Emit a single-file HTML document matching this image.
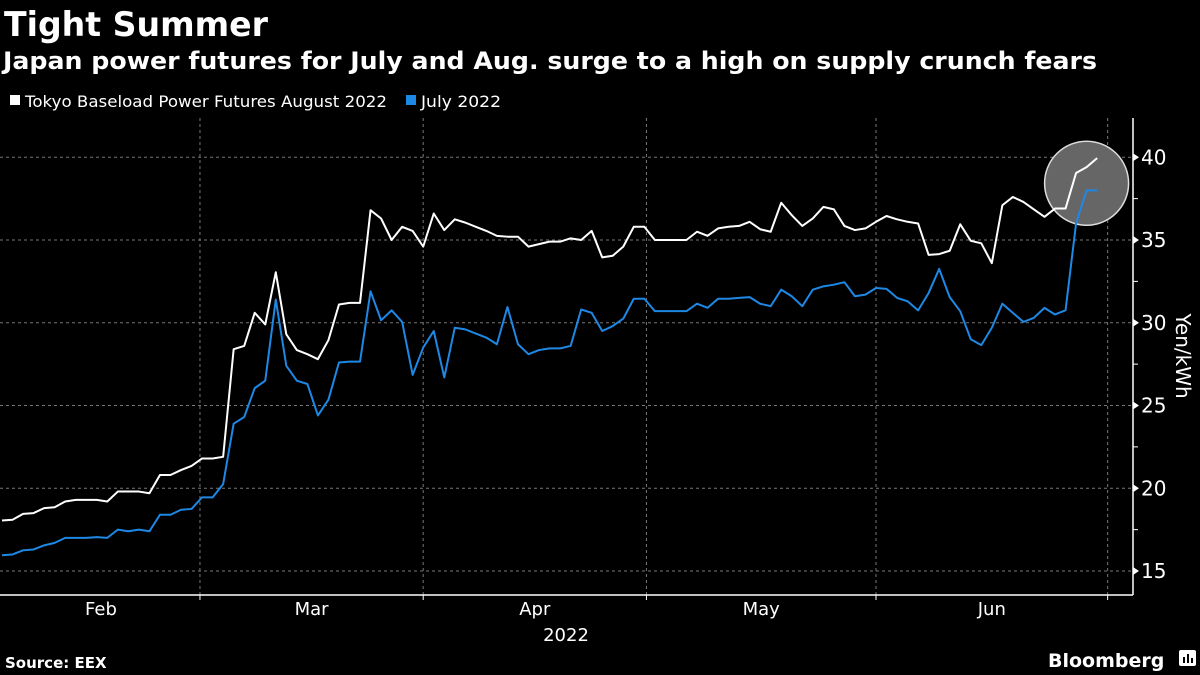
<!DOCTYPE html>
<html><head><meta charset="utf-8"><style>
html,body{margin:0;padding:0;background:#000;}
body{width:1200px;height:675px;overflow:hidden;font-family:"Liberation Sans","DejaVu Sans",sans-serif;color:#fff;}
</style></head><body>
<svg id="chart" width="1200" height="675" xmlns="http://www.w3.org/2000/svg" style="position:absolute;left:0;top:0">
<text x="4" y="36" font-family="DejaVu Sans, sans-serif" font-weight="bold" font-size="34" fill="#fff" textLength="264" lengthAdjust="spacingAndGlyphs">Tight Summer</text>
<text x="3" y="69" font-family="DejaVu Sans, sans-serif" font-weight="bold" font-size="24" fill="#fff" textLength="1094" lengthAdjust="spacingAndGlyphs">Japan power futures for July and Aug. surge to a high on supply crunch fears</text>
<g>
<rect x="10" y="95" width="10" height="10" fill="#fff"/>
<text x="25" y="107" font-family="DejaVu Sans, sans-serif" font-size="16" fill="#fff" textLength="362" lengthAdjust="spacingAndGlyphs">Tokyo Baseload Power Futures August 2022</text>
<rect x="406" y="95" width="10" height="10" fill="#1e88e5"/>
<text x="421" y="107" font-family="DejaVu Sans, sans-serif" font-size="16" fill="#fff" textLength="80" lengthAdjust="spacingAndGlyphs">July 2022</text>
</g>
<g id="grid"></g>
<g id="series"></g>
<g id="axes"></g>
<text transform="translate(1176,356) rotate(90)" text-anchor="middle" font-family="DejaVu Sans, sans-serif" font-size="20" fill="#fff">Yen/kWh</text>
<text x="566" y="641" text-anchor="middle" font-family="DejaVu Sans, sans-serif" font-size="18" fill="#fff">2022</text>
<text x="5" y="668" font-family="DejaVu Sans, sans-serif" font-weight="bold" font-size="15" fill="#fff">Source: EEX</text>
<text x="1048" y="667" font-family="DejaVu Sans, sans-serif" font-weight="bold" font-size="19" fill="#fff">Bloomberg</text>
<g><rect x="1179" y="650" width="17" height="16" rx="2" fill="#fff"/><rect x="1183" y="657" width="2" height="6" fill="#000"/><rect x="1187" y="654" width="2" height="9" fill="#000"/><rect x="1191" y="658" width="2" height="5" fill="#000"/></g>
</svg>
<script>
const august = [18.05,18.1,18.45,18.5,18.8,18.85,19.2,19.3,19.3,19.3,19.2,19.8,19.8,19.8,19.7,20.8,20.8,21.1,21.35,21.8,21.8,21.9,28.4,28.6,30.6,29.9,33.05,29.3,28.35,28.1,27.8,28.95,31.1,31.2,31.2,36.8,36.3,35.0,
35.8,35.55,34.6,36.6,35.6,36.25,36.05,35.8,35.55,35.25,35.2,35.2,34.6,34.75,34.9,34.9,35.1,35.0,35.55,33.95,34.05,34.6,35.8,35.8,35.0,35.0,35.0,35.0,35.5,35.25,35.7,35.8,35.85,36.1,35.65,35.5,37.25,36.5,
35.85,36.3,37.0,36.85,35.85,35.6,35.7,36.1,36.45,36.25,36.1,36.0,34.1,34.15,34.35,35.95,34.95,34.8,33.6,37.1,37.6,37.3,36.85,36.4,36.9,36.9,39.05,39.4,39.95];
const july = [15.95,16.0,16.25,16.3,16.55,16.7,17.0,17.0,17.0,17.05,17.0,17.5,17.4,17.5,17.4,18.4,18.4,18.7,18.75,19.45,19.45,20.25,23.9,24.3,26.05,26.5,31.4,27.4,26.5,26.3,24.4,25.35,27.6,27.65,27.65,31.9,30.15,30.75,
30.05,26.85,28.5,29.5,26.7,29.7,29.6,29.35,29.1,28.7,30.95,28.7,28.1,28.35,28.45,28.45,28.6,30.8,30.6,29.5,29.8,30.25,31.45,31.45,30.7,30.7,30.7,30.7,31.15,30.9,31.45,31.45,31.5,31.55,31.15,31.0,32.0,31.6,
31.0,32.0,32.2,32.3,32.45,31.6,31.7,32.1,32.05,31.5,31.3,30.75,31.8,33.25,31.55,30.7,29.0,28.65,29.7,31.15,30.6,30.05,30.3,30.9,30.5,30.75,36.0,38.0,38.0];
const yTicks = [15,20,25,30,35,40];
const monthLabels = ["Feb","Mar","Apr","May","Jun"];
const monthStarts = [0,18.8,40,61.2,83,105];

const NS="http://www.w3.org/2000/svg";
const X0=2, DX=10.53, Y15=571, PPU=16.55, AXR=1133, AXB=595, AXT=118;
function xs(i){return X0+i*DX;}
function ys(v){return Y15-(v-15)*PPU;}
function mk(tag,attrs,parent){const e=document.createElementNS(NS,tag);for(const k in attrs)e.setAttribute(k,attrs[k]);parent.appendChild(e);return e;}
const grid=document.getElementById('grid'), axes=document.getElementById('axes'), series=document.getElementById('series');
yTicks.forEach(v=>{
  const y=ys(v);
  const g=mk('line',{x1:0,x2:AXR,y1:y,y2:y,stroke:'#777','stroke-width':1,'stroke-dasharray':'3,3'},grid);
  
  
  const t=mk('path',{d:`M${AXR} ${y-4} L${AXR+6} ${y} L${AXR} ${y+4} Z`,fill:'#fff'},axes);
  
  
  const l=mk('text',{x:AXR+8,y:y+7,'font-size':20,fill:'#fff','font-family':'DejaVu Sans, sans-serif'},axes);
  l.textContent=v;
  
  
  const m=ys(v+2.5);
  if(v<40){const mt=mk('line',{x1:AXR,x2:AXR+5,y1:m,y2:m,stroke:'#fff','stroke-width':1},axes);
  
  }
});
monthStarts.forEach((s,k)=>{
  const x=xs(s);
  if(k>0){
    const g=mk('line',{x1:x,x2:x,y1:AXT,y2:AXB,stroke:'#777','stroke-width':1,'stroke-dasharray':'3,3'},grid);
    
    
    const t=mk('line',{x1:x,x2:x,y1:AXB,y2:AXB+5,stroke:'#fff','stroke-width':1},axes);
    
    
  }
  if(k<monthLabels.length){
    const l=mk('text',{x:(xs(s)+xs(monthStarts[k+1]))/2,y:615,'text-anchor':'middle','font-size':18,fill:'#fff','font-family':'DejaVu Sans, sans-serif'},axes);
    l.textContent=monthLabels[k];
    
    
  }
});
const xa=mk('line',{x1:0,x2:AXR,y1:AXB,y2:AXB,stroke:'#fff','stroke-width':1.5},axes);


const ya=mk('line',{x1:AXR,x2:AXR,y1:AXT,y2:AXB,stroke:'#fff','stroke-width':1.5},axes);


const n=august.length-1;
const cx=xs(n-1), cy=(ys(august[n])+ys(july[n]))/2+9;
const circ=mk('circle',{cx:cx,cy:cy,r:42,fill:'#666',stroke:'#ddd','stroke-width':1.5},series);


function line(arr,color,name){
  const p=mk('polyline',{points:arr.map((v,i)=>xs(i)+','+ys(v)).join(' '),fill:'none',stroke:color,'stroke-width':2,'stroke-linejoin':'round'},series);
  
  
}
line(july,'#1e88e5','july-2022-line');
line(august,'#ffffff','august-2022-line');
</script>
</body></html>
